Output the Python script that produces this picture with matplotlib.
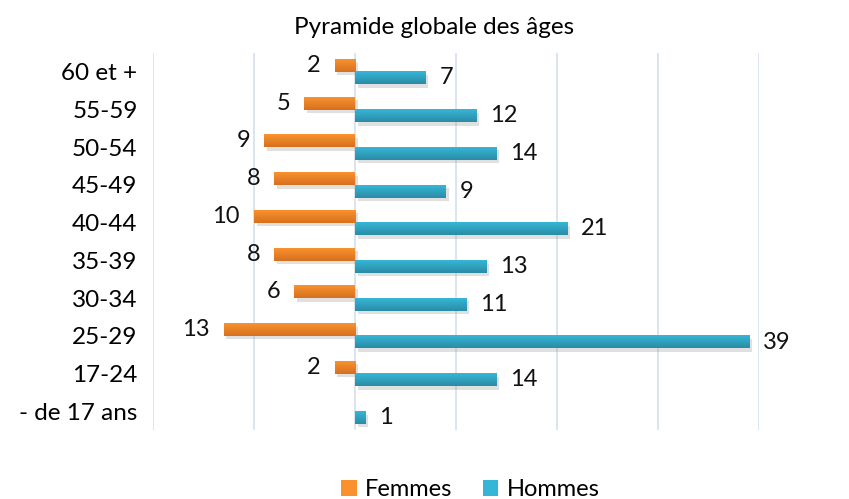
import numpy as np
import matplotlib
matplotlib.use("Agg")
import matplotlib.pyplot as plt
from matplotlib.colors import LinearSegmentedColormap
from matplotlib.patches import Patch
import matplotlib.patheffects as pe

plt.rcParams['font.family'] = ['Lato', 'DejaVu Sans']

# Données (de bas en haut)
categories = ["- de 17 ans", "17-24", "25-29", "30-34", "35-39",
              "40-44", "45-49", "50-54", "55-59", "60 et +"]
femmes = [0, 2, 13, 6, 8, 10, 8, 9, 5, 2]
hommes = [1, 14, 39, 11, 13, 21, 9, 14, 12, 7]

c_f_top, c_f_bot = "#F9922E", "#D6701F"
c_h_top, c_h_bot = "#36B6D6", "#2A8CA6"

fig = plt.figure(figsize=(8.49, 4.99), dpi=100)
ax = fig.add_axes([0.180, 0.138, 0.714, 0.756])

y = np.arange(len(categories))
off = 0.165
h = 0.34

shadow = [pe.SimplePatchShadow(offset=(2, -2.5), shadow_rgbFace="#999999", alpha=0.3), pe.Normal()]

bf = ax.barh(y + off, [-v for v in femmes], height=h, color=c_f_top, zorder=3, path_effects=shadow)
bh = ax.barh(y - off, hommes, height=h, color=c_h_top, zorder=3, path_effects=shadow)

# dégradé vertical sur chaque barre
grad = np.linspace(0, 1, 64).reshape(-1, 1)
cm_f = LinearSegmentedColormap.from_list("f", [c_f_bot, c_f_top])
cm_h = LinearSegmentedColormap.from_list("h", [c_h_bot, c_h_top])
for bars, cm in ((bf, cm_f), (bh, cm_h)):
    for b in bars:
        x0, w = b.get_x(), b.get_width()
        if w == 0:
            continue
        y0 = b.get_y()
        ax.imshow(grad, extent=[min(x0, x0 + w), max(x0, x0 + w), y0, y0 + b.get_height()],
                  origin="lower", aspect="auto", cmap=cm, zorder=4)

# étiquettes de valeurs
for yi, v in zip(y, femmes):
    if v:
        ax.annotate(str(v), (-v, yi + off), xytext=(-10, 0), textcoords="offset points",
                    ha="right", va="center", fontsize=17, color="#111111")
for yi, v in zip(y, hommes):
    ax.annotate(str(v), (v, yi - off), xytext=(10, 0), textcoords="offset points",
                ha="left", va="center", fontsize=17, color="#111111")

ax.set_xlim(-20, 40)
ax.set_ylim(-0.5, len(categories) - 0.5)
ax.set_xticks(np.arange(-20, 41, 10))
ax.set_xticklabels([])
ax.set_yticks(y)
ax.set_yticklabels(categories, fontsize=17.5)
ax.tick_params(length=0, pad=11)
ax.grid(axis="x", color="#D5DFEE", linewidth=1.2, zorder=0)
for s in ax.spines.values():
    s.set_visible(False)

fig.text(0.511, 0.945, "Pyramide globale des âges", fontsize=17.5, ha="center", va="center")

handles = [Patch(facecolor=c_f_top), Patch(facecolor=c_h_top)]
fig.legend(handles, ["Femmes", "Hommes"], loc="lower center", bbox_to_anchor=(0.554, -0.045),
           ncol=2, frameon=False, fontsize=17, handlelength=0.65, handleheight=0.65,
           handletextpad=0.35, columnspacing=1.3)

fig.savefig("out.png", dpi=100)
